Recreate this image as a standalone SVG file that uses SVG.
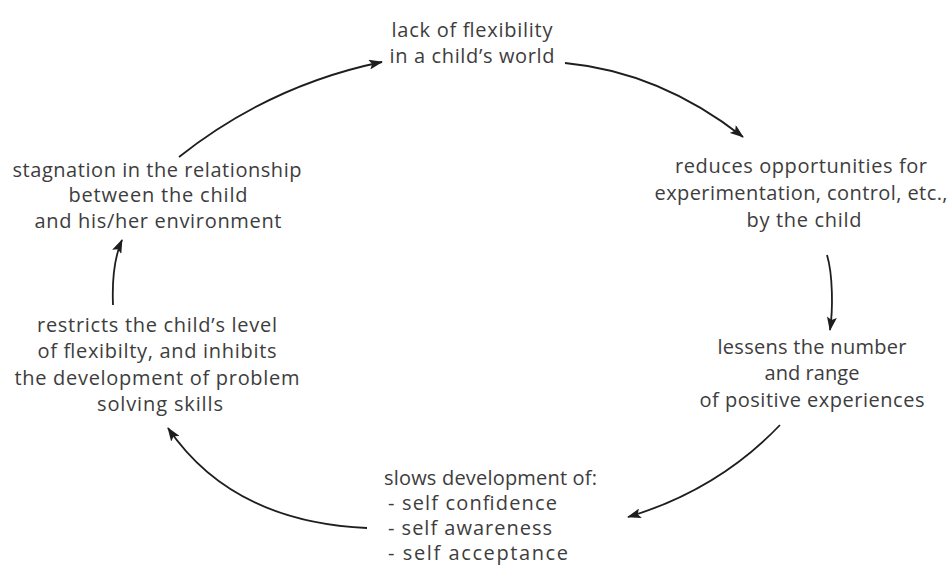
<svg xmlns="http://www.w3.org/2000/svg" width="951" height="566" viewBox="0 0 951 566">
<style>
  .t { font-family: "Open Sans", "Liberation Sans", sans-serif; font-size: 20px; font-weight: 400; fill: #3d3d3d; }
  .c { text-anchor: middle; }
  .e { fill: none; stroke: #1e1e1e; stroke-width: 1.8; marker-end: url(#ah); }
</style>
<defs>
  <marker id="ah" viewBox="0 0 14 10" refX="13" refY="5" markerWidth="14" markerHeight="10" markerUnits="userSpaceOnUse" orient="auto">
    <path d="M0,0 L14,5 L0,10 L3,5 z" fill="#1e1e1e"/>
  </marker>
</defs>
<rect width="951" height="566" fill="#fff"/>
<g id="connectors">
  <path class="e" d="M179,157 Q270,85 382,62"/>
  <path class="e" d="M565,63 Q660,72 743,137"/>
  <path class="e" d="M827,255 C833,275 833,310 830,330"/>
  <path class="e" d="M780,425 Q718,490 628,517"/>
  <path class="e" d="M367,528 Q232,522 168,428"/>
  <path class="e" d="M113,305 C112,280 114,258 122,240"/>
</g>
<g id="node-top">
  <text class="t c" x="472" y="37" textLength="161" lengthAdjust="spacing">lack of flexibility</text>
  <text class="t c" x="472" y="63" textLength="165" lengthAdjust="spacing">in a child’s world</text>
</g>
<g id="node-right-top">
  <text class="t c" x="801" y="173" textLength="252" lengthAdjust="spacing">reduces opportunities for</text>
  <text class="t c" x="801" y="200" textLength="293" lengthAdjust="spacing">experimentation, control, etc.,</text>
  <text class="t c" x="804" y="227" textLength="115" lengthAdjust="spacing">by the child</text>
</g>
<g id="node-right">
  <text class="t c" x="812" y="354" textLength="189" lengthAdjust="spacing">lessens the number</text>
  <text class="t c" x="812" y="380" textLength="95" lengthAdjust="spacing">and range</text>
  <text class="t c" x="812" y="407" textLength="225" lengthAdjust="spacing">of positive experiences</text>
</g>
<g id="node-bottom">
  <text class="t" x="384" y="485" textLength="213" lengthAdjust="spacing">slows development of:</text>
  <text class="t" x="388" y="510" textLength="169" lengthAdjust="spacing">- self confidence</text>
  <text class="t" x="388" y="535" textLength="164" lengthAdjust="spacing">- self awareness</text>
  <text class="t" x="388" y="560" textLength="180" lengthAdjust="spacing">- self acceptance</text>
</g>
<g id="node-left-bottom">
  <text class="t c" x="157" y="332" textLength="240" lengthAdjust="spacing">restricts the child’s level</text>
  <text class="t c" x="157" y="358" textLength="239" lengthAdjust="spacing">of flexibilty, and inhibits</text>
  <text class="t c" x="157" y="385" textLength="285" lengthAdjust="spacing">the development of problem</text>
  <text class="t c" x="160" y="411" textLength="126" lengthAdjust="spacing">solving skills</text>
</g>
<g id="node-left-top">
  <text class="t c" x="157" y="177" textLength="289" lengthAdjust="spacing">stagnation in the relationship</text>
  <text class="t c" x="158" y="202" textLength="179" lengthAdjust="spacing">between the child</text>
  <text class="t c" x="158" y="228" textLength="247" lengthAdjust="spacing">and his/her environment</text>
</g>
</svg>
